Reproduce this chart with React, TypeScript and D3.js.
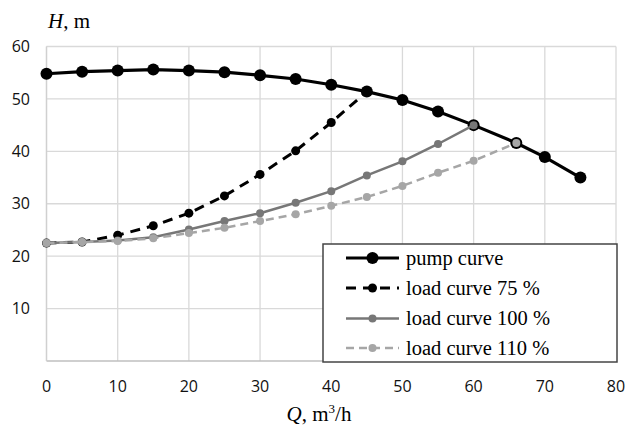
import * as d3 from "d3";

const pumpQ = [0, 5, 10, 15, 20, 25, 30, 35, 40, 45, 50, 55, 60, 66, 70, 75];
const pumpH = [54.8, 55.2, 55.4, 55.6, 55.4, 55.1, 54.5, 53.8, 52.7, 51.4, 49.8, 47.6, 45.0, 41.6, 38.9, 35.0];

const load75Q = [0, 5, 10, 15, 20, 25, 30, 35, 40, 45];
const load75H = [22.5, 22.7, 24.0, 25.8, 28.2, 31.5, 35.6, 40.1, 45.5, 51.4];

const load100Q = [0, 5, 10, 15, 20, 25, 30, 35, 40, 45, 50, 55, 60];
const load100H = [22.5, 22.7, 23.0, 23.6, 25.1, 26.7, 28.2, 30.2, 32.4, 35.4, 38.1, 41.4, 45.0];

const load110Q = [0, 5, 10, 15, 20, 25, 30, 35, 40, 45, 50, 55, 60, 66];
const load110H = [22.5, 22.7, 22.9, 23.4, 24.4, 25.4, 26.7, 28.0, 29.6, 31.3, 33.4, 35.9, 38.2, 41.6];

const xTicks = [0, 10, 20, 30, 40, 50, 60, 70, 80];
const yTicks = [10, 20, 30, 40, 50, 60];

const series = [
  { name: "pump curve", q: pumpQ, h: pumpH, color: "#000000", width: 3.2, dash: "", r: 6 },
  { name: "load curve 75 %", q: load75Q, h: load75H, color: "#000000", width: 3, dash: "10,7", r: 4.5 },
  { name: "load curve 100 %", q: load100Q, h: load100H, color: "#777777", width: 2.5, dash: "", r: 4 },
  { name: "load curve 110 %", q: load110Q, h: load110H, color: "#a6a6a6", width: 2.5, dash: "8,5", r: 4 },
];

export default function App() {
  const x = d3.scaleLinear().domain([0, 80]).range([46.5, 616]);
  const y = d3.scaleLinear().domain([0, 60]).range([361, 46.5]);
  const line = d3.line<[number, number]>().x(d => x(d[0])).y(d => y(d[1]));
  const tickFont = "'Open Sans', sans-serif";
  const serif = "'Liberation Serif', 'Times New Roman', serif";

  const legX = 323, legY = 244, legW = 294, legH = 118;
  const rowY = [258, 288, 318.5, 348];

  return (
    <svg width={628} height={428} style={{ position: "absolute", left: 0, top: 0 }}>
      <rect width={628} height={428} fill="#fff" />
      {yTicks.map(t => (
        <line key={"gy" + t} x1={x(0)} x2={x(80)} y1={y(t)} y2={y(t)} stroke="#d9d9d9" strokeWidth={1.3} />
      ))}
      {xTicks.map(t => (
        <line key={"gx" + t} x1={x(t)} x2={x(t)} y1={y(0)} y2={y(60)} stroke="#d9d9d9" strokeWidth={1.3} />
      ))}
      <line x1={x(0)} x2={x(80)} y1={y(0)} y2={y(0)} stroke="#bfbfbf" strokeWidth={1.5} />
      <line x1={x(0)} x2={x(0)} y1={y(0)} y2={y(60)} stroke="#d0d0d0" strokeWidth={1.3} />

      {yTicks.map(t => (
        <text key={"ly" + t} x={30} y={y(t)} dy="0.35em" textAnchor="end" fontFamily={tickFont} fontSize={16} fill="#111">{t}</text>
      ))}
      {xTicks.map(t => (
        <text key={"lx" + t} x={x(t)} y={386} dy="0.35em" textAnchor="middle" fontFamily={tickFont} fontSize={16} fill="#111">{t}</text>
      ))}

      {series.map(s => {
        const pts = s.q.map((q, i) => [q, s.h[i]] as [number, number]);
        return (
          <g key={s.name}>
            <path d={line(pts) || ""} fill="none" stroke={s.color} strokeWidth={s.width} strokeDasharray={s.dash} strokeLinejoin="round" />
            {pts.map((p, i) => (
              <circle key={i} cx={x(p[0])} cy={y(p[1])} r={s.r} fill={s.color} />
            ))}
          </g>
        );
      })}

      <rect x={legX} y={legY} width={legW} height={legH} fill="#fff" stroke="#444" strokeWidth={1.5} />
      {series.map((s, i) => (
        <g key={"leg" + i}>
          <line x1={346} x2={399} y1={rowY[i]} y2={rowY[i]} stroke={s.color} strokeWidth={s.width} strokeDasharray={s.dash} />
          <circle cx={372.5} cy={rowY[i]} r={s.r} fill={s.color} />
          <text x={406} y={rowY[i]} dy="0.33em" fontFamily={serif} fontSize={20.5} fill="#000">{s.name}</text>
        </g>
      ))}

      <text x={48} y={28} fontFamily={serif} fontSize={21} fill="#000">
        <tspan fontStyle="italic">H</tspan>, m
      </text>
      <text x={319} y={421} textAnchor="middle" fontFamily={serif} fontSize={21} fill="#000">
        <tspan fontStyle="italic">Q</tspan>, m<tspan dy={-8} fontSize={13}>3</tspan><tspan dy={8}>/h</tspan>
      </text>
    </svg>
  );
}
